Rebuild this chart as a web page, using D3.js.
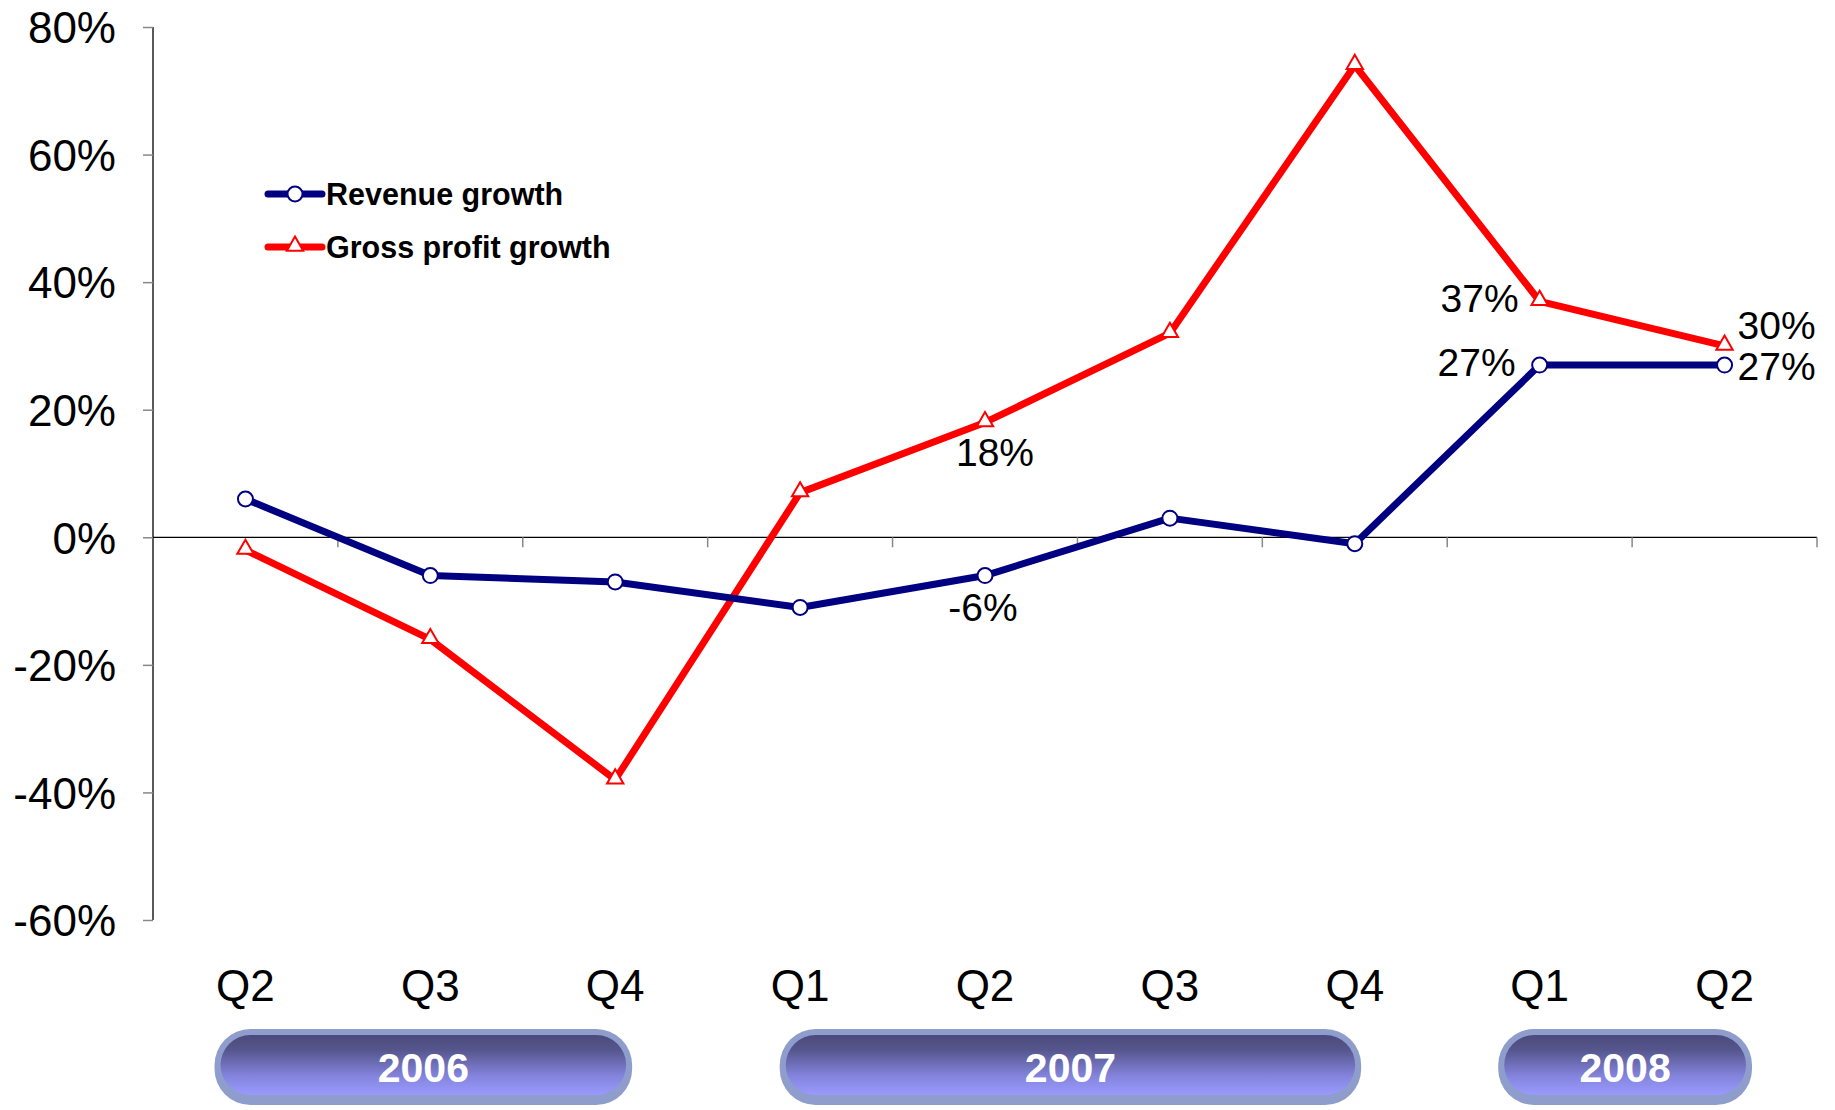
<!DOCTYPE html>
<html>
<head>
<meta charset="utf-8">
<script src="https://cdn.jsdelivr.net/npm/d3@7"></script>
<style>
  html, body { margin: 0; padding: 0; background: #fff; }
  svg { display: block; font-family: "Liberation Sans", Arial, sans-serif; }
</style>
</head>
<body>
<svg id="chart" width="1835" height="1110"></svg>
<script>
// Quarterly growth, year over year (%)
const quarters = ["Q2", "Q3", "Q4", "Q1", "Q2", "Q3", "Q4", "Q1", "Q2"];
const revenueGrowth = [6, -6, -7, -11, -6, 3, -1, 27, 27];
const grossProfitGrowth = [-2, -16, -38, 7, 18, 32, 74, 37, 30];
const yTicks = [80, 60, 40, 20, 0, -20, -40, -60];

// Year groups: first and last quarter index covered by each year
const years = ["2006", "2007", "2008"];
const yearFirst = [0, 3, 7];
const yearLast = [2, 6, 8];

// Labelled points: quarter index and placement
const revenueLabels = [
  { i: 4, pos: "below" },
  { i: 7, pos: "left" },
  { i: 8, pos: "right" }
];
const grossLabels = [
  { i: 4, pos: "below" },
  { i: 7, pos: "left" },
  { i: 8, pos: "right" }
];

const svg = d3.select("#chart");
const plotLeft = 153, plotRight = 1817, plotTop = 27, plotBottom = 920;

const x = d3.scaleBand().domain(d3.range(quarters.length)).range([plotLeft, plotRight]);
const cx = i => x(i) + x.bandwidth() / 2;
const y = d3.scaleLinear().domain([-60, 80]).range([plotBottom, plotTop]);

// Y axis
const yAxis = svg.append("g").attr("transform", `translate(${plotLeft},0)`)
  .call(d3.axisLeft(y).tickValues(yTicks).tickSize(10).tickFormat(d => d + "%"));
yAxis.select(".domain").attr("stroke", "#000").attr("stroke-width", 1.3).attr("d", `M0,${plotTop}V${plotBottom}`);
yAxis.selectAll(".tick line").attr("stroke", "#888").attr("stroke-width", 1.5);
yAxis.selectAll(".tick text")
  .attr("x", -37).attr("dy", "0.36em")
  .attr("fill", "#000").style("font-size", "44px")
  .style("font-family", "'Liberation Sans', Arial, sans-serif");

// X axis at zero, ticks between quarters
const xAxisG = svg.append("g").attr("transform", `translate(0,${y(0)})`);
xAxisG.append("line").attr("x1", plotLeft).attr("x2", plotRight).attr("stroke", "#000").attr("stroke-width", 1.3);
xAxisG.selectAll("line.tk").data(d3.range(1, quarters.length + 1)).join("line")
  .attr("class", "tk")
  .attr("x1", d => x(0) + d * x.bandwidth()).attr("x2", d => x(0) + d * x.bandwidth())
  .attr("y1", 0).attr("y2", 10).attr("stroke", "#888").attr("stroke-width", 1.5);

// Quarter labels
svg.append("g").selectAll("text").data(quarters).join("text")
  .attr("x", (d, i) => cx(i)).attr("y", 985).attr("dy", "0.36em")
  .attr("text-anchor", "middle").style("font-size", "44px").attr("fill", "#000")
  .text(d => d);

// Year pills
const defs = svg.append("defs");
const grad = defs.append("linearGradient").attr("id", "pillGrad")
  .attr("x1", 0).attr("y1", 0).attr("x2", 0).attr("y2", 1);
grad.append("stop").attr("offset", "0%").attr("stop-color", "#4a4a7c");
grad.append("stop").attr("offset", "25%").attr("stop-color", "#56568e");
grad.append("stop").attr("offset", "70%").attr("stop-color", "#8585df");
grad.append("stop").attr("offset", "100%").attr("stop-color", "#9a9aff");

const pillTop = 1029, pillH = 76;
const pills = svg.append("g").selectAll("g").data(years).join("g");
pills.each(function (d, k) {
  const g = d3.select(this);
  const span = cx(yearLast[k]) - cx(yearFirst[k]);
  const mid = (cx(yearFirst[k]) + cx(yearLast[k])) / 2 - 7;
  const w = 0.886 * span + 90;
  const x0 = mid - w / 2;
  g.append("rect").attr("x", x0).attr("y", pillTop).attr("width", w).attr("height", pillH)
    .attr("rx", 36).attr("fill", "#8f9dcc");
  g.append("rect").attr("x", x0 + 6).attr("y", pillTop + 6).attr("width", w - 12).attr("height", pillH - 16)
    .attr("rx", 30).attr("fill", "url(#pillGrad)");
  g.append("text").attr("x", mid).attr("y", pillTop + 38).attr("dy", "0.36em")
    .attr("text-anchor", "middle").attr("fill", "#fff")
    .style("font-size", "41px").style("font-weight", "bold").text(d);
});

// Lines
const line = d3.line().x((d, i) => cx(i)).y(d => y(d));
svg.append("path").datum(grossProfitGrowth).attr("d", line)
  .attr("fill", "none").attr("stroke", "#ff0000").attr("stroke-width", 7).attr("stroke-linejoin", "round");
svg.append("path").datum(revenueGrowth).attr("d", line)
  .attr("fill", "none").attr("stroke", "#000080").attr("stroke-width", 7).attr("stroke-linejoin", "round");

// Markers
const tri = d3.symbol().type(d3.symbolTriangle).size(115);
svg.append("g").selectAll("path").data(grossProfitGrowth).join("path")
  .attr("d", tri).attr("transform", (d, i) => `translate(${cx(i)},${y(d) - 1})`)
  .attr("fill", "#fff").attr("stroke", "#ff0000").attr("stroke-width", 2);
svg.append("g").selectAll("circle").data(revenueGrowth).join("circle")
  .attr("cx", (d, i) => cx(i)).attr("cy", d => y(d)).attr("r", 7.5)
  .attr("fill", "#fff").attr("stroke", "#000080").attr("stroke-width", 2);

// Value labels
function drawLabels(list, values, offsets) {
  svg.append("g").selectAll("text").data(list).join("text")
    .attr("x", d => cx(d.i) + offsets[d.pos][0])
    .attr("y", d => y(values[d.i]) + offsets[d.pos][1])
    .attr("dy", "0.36em")
    .attr("text-anchor", d => d.pos === "left" ? "end" : d.pos === "right" ? "start" : "middle")
    .style("font-size", "39px").attr("fill", "#000")
    .text(d => values[d.i] + "%");
}
drawLabels(grossLabels, grossProfitGrowth, { below: [10, 29], left: [-21, -3], right: [13, -21] });
drawLabels(revenueLabels, revenueGrowth, { below: [-2, 31], left: [-24, -3], right: [13, 1] });

// Legend
const legend = [
  { name: "Revenue growth", color: "#000080", shape: "circle", yy: 194 },
  { name: "Gross profit growth", color: "#ff0000", shape: "triangle", yy: 247 }
];
const lg = svg.append("g").selectAll("g").data(legend).join("g")
  .attr("transform", d => `translate(0,${d.yy})`);
lg.append("line").attr("x1", 268).attr("x2", 322).attr("stroke", d => d.color)
  .attr("stroke-width", 7).attr("stroke-linecap", "round");
lg.each(function (d) {
  const g = d3.select(this);
  if (d.shape === "circle") {
    g.append("circle").attr("cx", 295).attr("r", 7.5).attr("fill", "#fff")
      .attr("stroke", d.color).attr("stroke-width", 2);
  } else {
    g.append("path").attr("d", tri).attr("transform", "translate(295,-1)")
      .attr("fill", "#fff").attr("stroke", d.color).attr("stroke-width", 2);
  }
});
lg.append("text").attr("x", 326).attr("dy", "0.36em")
  .style("font-size", "30.5px").style("font-weight", "bold").attr("fill", "#000")
  .text(d => d.name);
</script>
</body>
</html>
